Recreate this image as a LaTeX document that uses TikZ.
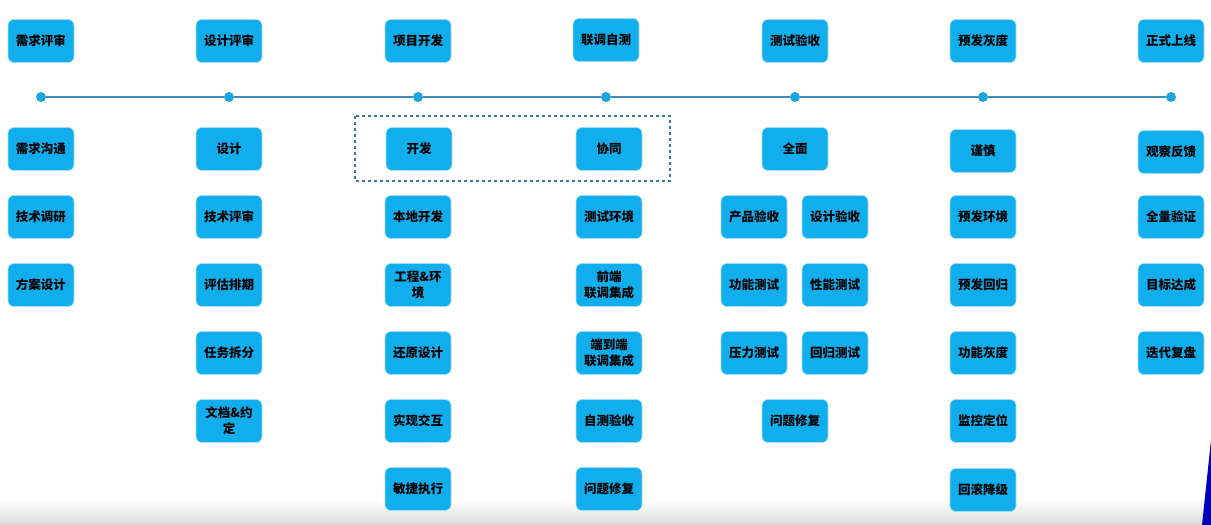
\documentclass[tikz,border=0pt]{standalone}
\usepackage{fontspec}
\setmainfont{Noto Sans CJK SC}
\usepackage{tikz}
\usetikzlibrary{shapes}

\definecolor{boxblue}{RGB}{16,174,236}
\definecolor{lineblue}{RGB}{62,140,190}
\definecolor{dotblue}{RGB}{30,165,225}
\definecolor{dashblue}{RGB}{50,120,170}

\tikzset{
  task/.style={rectangle, rounded corners=6pt, fill=boxblue, draw=boxblue!40, line width=0.6pt,
    minimum width=66pt, minimum height=43pt, inner sep=1pt, align=center,
    font=\fontsize{12.5}{16}\selectfont\bfseries},
  milestone/.style={circle, fill=dotblue, inner sep=0pt, minimum size=10pt}
}

\begin{document}
\begin{tikzpicture}[x=1pt, y=-1pt]
      \useasboundingbox (0,0) rectangle (1211,525);
      % bottom shade
      \shade[top color=white, bottom color=black!15] (0,500) rectangle (1211,525);
      \fill[blue!75!black] (1211,440) -- (1211,525) -- (1202,525) -- cycle;
      % timeline
      \node[name=m1, milestone] at (41,97){};
      \node[name=m2, milestone] at (229,97){};
      \node[name=m3, milestone] at (418,97){};
      \node[name=m4, milestone] at (606,97){};
      \node[name=m5, milestone] at (795,97){};
      \node[name=m6, milestone] at (983,97){};
      \node[name=m7, milestone] at (1171,97){};
      \draw[lineblue, line width=1.6pt] (m1) -- (m2) -- (m3) -- (m4) -- (m5) -- (m6) -- (m7);
      % stages
      \node[name=s1, task] at (41,41){需求评审};
      \node[name=s2, task] at (229,41){设计评审};
      \node[name=s3, task] at (418,41){项目开发};
      \node[name=s4, task] at (606,40){联调自测};
      \node[name=s5, task] at (795,41){测试验收};
      \node[name=s6, task] at (983,41){预发灰度};
      \node[name=s7, task] at (1171,41){正式上线};
      % requirement review
      \node[name=a1, task] at (41,149){需求沟通};
      \node[name=a2, task] at (41,217){技术调研};
      \node[name=a3, task] at (41,285){方案设计};
      % design review
      \node[name=b1, task] at (229,149){设计};
      \node[name=b2, task] at (229,217){技术评审};
      \node[name=b3, task] at (229,285){评估排期};
      \node[name=b4, task] at (229,353){任务拆分};
      \node[name=b5, task] at (229,421){文档\&约\\定};
      % development
      \node[name=c1, task] at (419,149){开发};
      \node[name=c2, task] at (418,217){本地开发};
      \node[name=c3, task] at (418,285){工程\&环\\境};
      \node[name=c4, task] at (418,353){还原设计};
      \node[name=c5, task] at (418,421){实现交互};
      \node[name=c6, task] at (418,489){敏捷执行};
      % joint debugging
      \node[name=d1, task] at (609,149){协同};
      \node[name=d2, task] at (609,217){测试环境};
      \node[name=d3, task] at (609,285){前端\\联调集成};
      \node[name=d4, task] at (609,353){端到端\\联调集成};
      \node[name=d5, task] at (609,421){自测验收};
      \node[name=d6, task] at (609,489){问题修复};
      \draw[dashblue, dashed, line width=1.2pt, dash pattern=on 3pt off 3pt] (355,116) rectangle (670,181);
      % testing
      \node[name=e1, task] at (795,149){全面};
      \node[name=e2, task] at (754,217){产品验收};
      \node[name=e3, task] at (835,217){设计验收};
      \node[name=e4, task] at (754,285){功能测试};
      \node[name=e5, task] at (835,285){性能测试};
      \node[name=e6, task] at (754,353){压力测试};
      \node[name=e7, task] at (835,353){回归测试};
      \node[name=e8, task] at (795,421){问题修复};
      % pre-release
      \node[name=f1, task] at (983,151){谨慎};
      \node[name=f2, task] at (983,217){预发环境};
      \node[name=f3, task] at (983,285){预发回归};
      \node[name=f4, task] at (983,353){功能灰度};
      \node[name=f5, task] at (983,421){监控定位};
      \node[name=f6, task] at (983,490){回滚降级};
      % launch
      \node[name=g1, task] at (1171,152){观察反馈};
      \node[name=g2, task] at (1171,217){全量验证};
      \node[name=g3, task] at (1171,285){目标达成};
      \node[name=g4, task] at (1171,353){迭代复盘};
    \end{tikzpicture}
\end{document}
